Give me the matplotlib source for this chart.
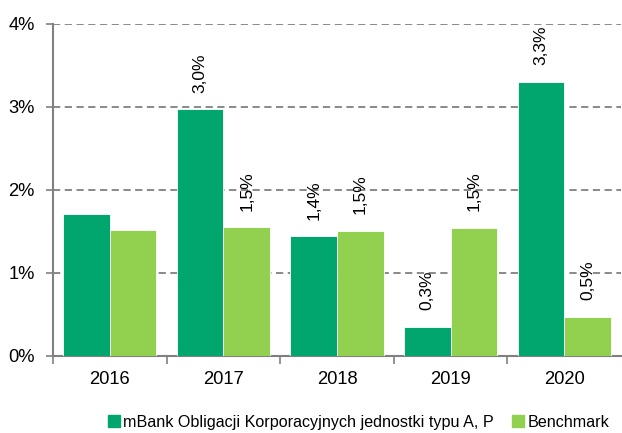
import matplotlib
matplotlib.use("Agg")
import matplotlib.pyplot as plt
import numpy as np
from matplotlib.lines import Line2D

years = ["2016", "2017", "2018", "2019", "2020"]
fund = [1.71, 2.97, 1.44, 0.35, 3.30]
bench = [1.52, 1.55, 1.51, 1.54, 0.47]
fund_labels = [None, "3,0%", "1,4%", "0,3%", "3,3%"]
bench_labels = [None, "1,5%", "1,5%", "1,5%", "0,5%"]
yticks = [0, 1, 2, 3, 4]
ytick_labels = ["0%", "1%", "2%", "3%", "4%"]
series_names = ["mBank Obligacji Korporacyjnych jednostki typu A, P", "Benchmark"]

c_fund = "#00A66E"
c_bench = "#92D050"
grey = "#808080"

plt.rcParams['font.family'] = ['Liberation Sans', 'DejaVu Sans']

fig = plt.figure(figsize=(6.22, 4.33), dpi=100)
ax = fig.add_axes([0.0852, 0.178, 0.9132, 0.7666])

x = np.arange(len(years))
w = 0.41
ax.bar(x - w/2, fund, w, color=c_fund, edgecolor="white", linewidth=0.6, zorder=3)
ax.bar(x + w/2, bench, w, color=c_bench, edgecolor="white", linewidth=0.6, zorder=3)

for xi, v, lab in zip(x - w/2, fund, fund_labels):
    if lab:
        ax.annotate(lab, (xi, v), xytext=(0, 12), textcoords="offset points",
                    rotation=90, ha="center", va="bottom", fontsize=12.5, color="black")
for xi, v, lab in zip(x + w/2, bench, bench_labels):
    if lab:
        ax.annotate(lab, (xi, v), xytext=(0, 12), textcoords="offset points",
                    rotation=90, ha="center", va="bottom", fontsize=12.5, color="black")

ax.set_xlim(-0.5, len(years) - 0.5)
ax.set_ylim(0, 4)
ax.set_yticks(yticks)
ax.set_yticklabels(ytick_labels, fontsize=13.2)
ax.set_xticks(x)
ax.set_xticklabels(years, fontsize=13.2)
ax.set_xticks(np.arange(-0.5, len(years) - 0.5, 1), minor=True)
ax.tick_params(axis="x", which="major", length=0, pad=11)
ax.tick_params(axis="x", which="minor", length=6, color=grey, width=1.2)
ax.tick_params(axis="y", length=5, color=grey, width=1.2, pad=8)

ax.yaxis.grid(True, linestyle=(0, (4, 2.5)), color=grey, linewidth=1.3, zorder=0)
ax.set_axisbelow(True)
for s in ["top", "right"]:
    ax.spines[s].set_visible(False)
for s in ["left", "bottom"]:
    ax.spines[s].set_color(grey)
    ax.spines[s].set_linewidth(1.5)

handles = [Line2D([], [], marker="s", linestyle="none", markersize=9, color=c)
           for c in (c_fund, c_bench)]
fig.legend(handles, series_names, loc="center", bbox_to_anchor=(0.575, 0.025),
           ncol=2, frameon=False, fontsize=11.6, handletextpad=0.1, columnspacing=1.0,
           handlelength=1.0, borderpad=0.2)

fig.savefig("out.png", dpi=100)
